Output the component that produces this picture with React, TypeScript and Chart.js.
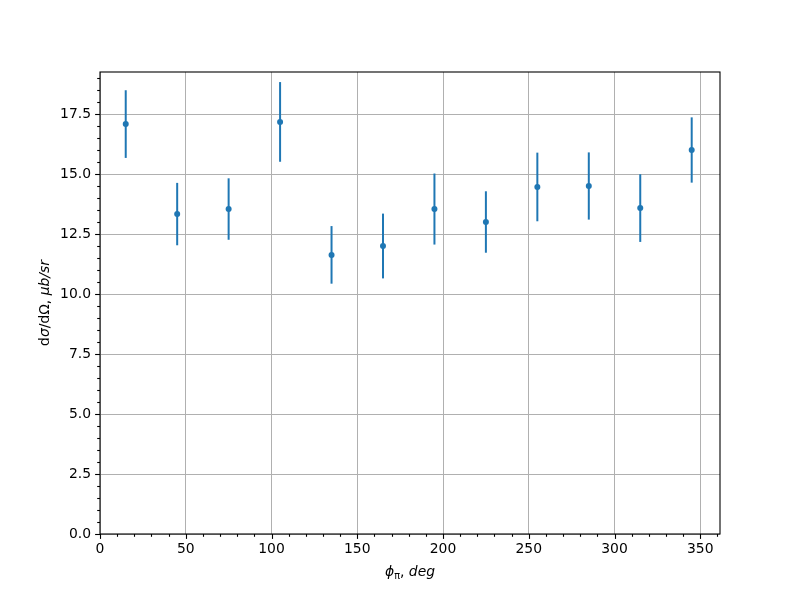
import React, { useEffect, useRef } from "react";
import { Chart, registerables } from "chart.js";
Chart.register(...registerables);

const phiDeg = [15, 45, 75, 105, 135, 165, 195, 225, 255, 285, 315, 345];
const crossSection = [17.08, 13.33, 13.54, 17.17, 11.63, 12.0, 13.54, 13.0, 14.46, 14.5, 13.58, 16.0];
const crossSectionErr = [1.41, 1.3, 1.28, 1.66, 1.2, 1.35, 1.48, 1.28, 1.43, 1.4, 1.41, 1.36];
const xTickValues = [0, 50, 100, 150, 200, 250, 300, 350];
const yTickValues = [0, 2.5, 5, 7.5, 10, 12.5, 15, 17.5];
const xMinorStep = 10;
const yMinorStep = 0.5;

const COLOR = "#1f77b4";
const FONT = "'DejaVu Sans', sans-serif";
const FS = 13.9;

type Seg = { t: string; it?: boolean; sub?: boolean };
const yLabelSegs: Seg[] = [
  { t: "d" }, { t: "σ", it: true }, { t: "/d" }, { t: "Ω" }, { t: ", " }, { t: "μb/sr", it: true },
];
const xLabelSegs: Seg[] = [
  { t: "ϕ", it: true }, { t: "π", sub: true }, { t: ", " }, { t: "deg", it: true },
];

function segFont(s: Seg) {
  const size = s.sub ? FS * 0.7 : FS;
  return `${s.it ? "italic " : ""}${size}px ${FONT}`;
}

function drawSegs(ctx: CanvasRenderingContext2D, segs: Seg[], cx: number, cy: number) {
  let total = 0;
  const widths = segs.map((s) => {
    ctx.font = segFont(s);
    const w = ctx.measureText(s.t).width;
    total += w;
    return w;
  });
  let x = cx - total / 2;
  ctx.textBaseline = "alphabetic";
  ctx.textAlign = "left";
  const base = cy + FS * 0.36;
  segs.forEach((s, i) => {
    ctx.font = segFont(s);
    ctx.fillText(s.t, x, s.sub ? base + FS * 0.22 : base);
    x += widths[i];
  });
}

const decorPlugin = {
  id: "decor",
  beforeDatasetsDraw(chart: any) {
    const ctx = chart.ctx as CanvasRenderingContext2D;
    const xs = chart.scales.x;
    const ys = chart.scales.y;
    ctx.save();
    ctx.strokeStyle = COLOR;
    ctx.lineWidth = 2;
    phiDeg.forEach((p, i) => {
      const px = xs.getPixelForValue(p);
      const y1 = ys.getPixelForValue(crossSection[i] + crossSectionErr[i]);
      const y2 = ys.getPixelForValue(crossSection[i] - crossSectionErr[i]);
      ctx.beginPath();
      ctx.moveTo(px, y1);
      ctx.lineTo(px, y2);
      ctx.stroke();
    });
    ctx.restore();
  },
  afterDraw(chart: any) {
    const ctx = chart.ctx as CanvasRenderingContext2D;
    const a = chart.chartArea;
    const xs = chart.scales.x;
    const ys = chart.scales.y;
    ctx.save();
    ctx.strokeStyle = "#000";
    ctx.lineWidth = 1.1;
    // frame
    ctx.strokeRect(a.left, a.top, a.right - a.left, a.bottom - a.top);
    // x ticks
    for (let v = 0; v <= xs.max + 1e-9; v += xMinorStep) {
      const major = xTickValues.some((t) => Math.abs(t - v) < 1e-6);
      const px = Math.round(xs.getPixelForValue(v)) + 0.5;
      ctx.beginPath();
      ctx.moveTo(px, a.bottom);
      ctx.lineTo(px, a.bottom + (major ? 4.9 : 2.8));
      ctx.stroke();
    }
    for (let v = 0; v <= ys.max + 1e-9; v += yMinorStep) {
      const major = yTickValues.some((t) => Math.abs(t - v) < 1e-6);
      const py = Math.round(ys.getPixelForValue(v)) + 0.5;
      ctx.beginPath();
      ctx.moveTo(a.left, py);
      ctx.lineTo(a.left - (major ? 4.9 : 2.8), py);
      ctx.stroke();
    }
    // axis labels
    ctx.fillStyle = "#000";
    drawSegs(ctx, xLabelSegs, (a.left + a.right) / 2, 571);
    ctx.save();
    ctx.translate(44, (a.top + a.bottom) / 2);
    ctx.rotate(-Math.PI / 2);
    drawSegs(ctx, yLabelSegs, 0, 0);
    ctx.restore();
    ctx.restore();
  },
};

export default function App() {
  const ref = useRef<HTMLCanvasElement | null>(null);
  useEffect(() => {
    if (!ref.current) return;
    const chart = new Chart(ref.current, {
      type: "scatter",
      data: {
        datasets: [
          {
            data: phiDeg.map((p, i) => ({ x: p, y: crossSection[i] })),
            backgroundColor: COLOR,
            borderColor: COLOR,
            pointRadius: 3,
            pointBorderWidth: 0,
          },
        ],
      },
      options: {
        animation: false,
        responsive: true,
        maintainAspectRatio: false,
        layout: { padding: { left: 0, right: 80, top: 72, bottom: 0 } },
        plugins: { legend: { display: false }, tooltip: { enabled: false } },
        scales: {
          x: {
            type: "linear",
            min: 0,
            max: 361.5,
            afterBuildTicks: (s: any) => {
              s.ticks = xTickValues.map((v) => ({ value: v }));
            },
            afterFit: (s: any) => {
              s.height = 66;
            },
            ticks: {
              callback: (v: any) => String(v),
              color: "#000",
              font: { family: FONT, size: FS },
              padding: 7,
              maxRotation: 0,
              autoSkip: false,
            },
            grid: { color: "#b0b0b0", lineWidth: 1, drawTicks: false },
            border: { display: false },
          },
          y: {
            type: "linear",
            min: 0,
            max: 19.25,
            afterBuildTicks: (s: any) => {
              s.ticks = yTickValues.map((v) => ({ value: v }));
            },
            afterFit: (s: any) => {
              s.width = 100;
            },
            ticks: {
              callback: (v: any) => Number(v).toFixed(1),
              color: "#000",
              font: { family: FONT, size: FS },
              padding: 9,
              autoSkip: false,
            },
            grid: { color: "#b0b0b0", lineWidth: 1, drawTicks: false },
            border: { display: false },
          },
        },
      },
      plugins: [decorPlugin],
    } as any);
    return () => chart.destroy();
  }, []);
  return (
    <div style={{ position: "absolute", left: 0, top: 0, width: 800, height: 600, background: "#fff" }}>
      <canvas ref={ref} />
    </div>
  );
}
